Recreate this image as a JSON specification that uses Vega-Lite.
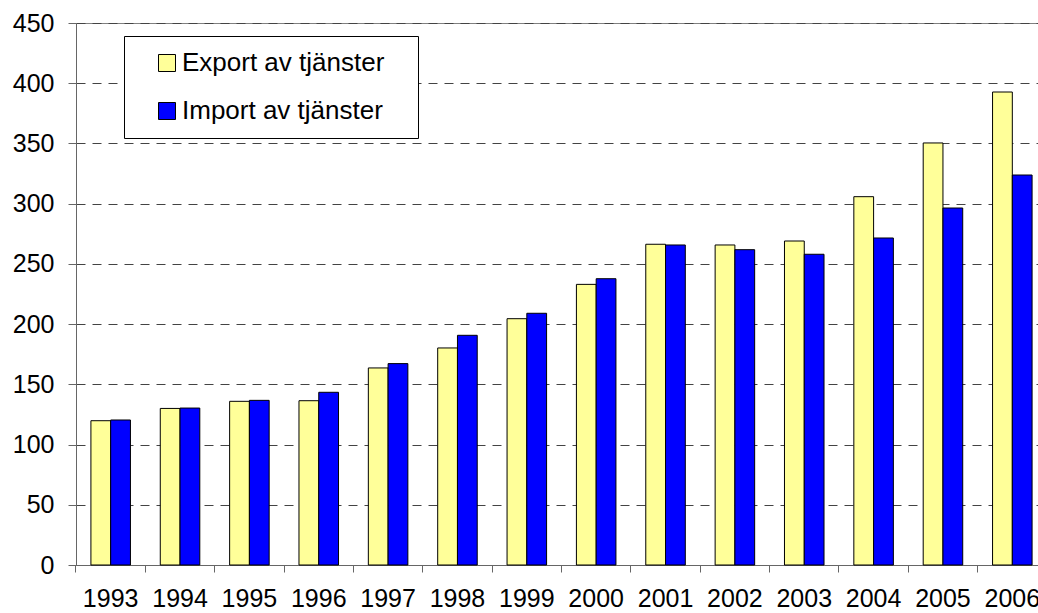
{
  "$schema": "https://vega.github.io/schema/vega-lite/v6.json",
  "width": 971,
  "height": 542,
  "autosize": {"type": "none"},
  "padding": {"left": 76, "top": 23, "right": 0, "bottom": 48},
  "background": "white",
  "config": {
    "font": "Liberation Sans",
    "view": {"stroke": "#808080", "strokeWidth": 1}
  },
  "data": {
    "values": [
      {"year": "1993", "serie": "Export av tjänster", "value": 119.8},
      {"year": "1993", "serie": "Import av tjänster", "value": 120.4},
      {"year": "1994", "serie": "Export av tjänster", "value": 130},
      {"year": "1994", "serie": "Import av tjänster", "value": 130.3},
      {"year": "1995", "serie": "Export av tjänster", "value": 135.9},
      {"year": "1995", "serie": "Import av tjänster", "value": 136.7},
      {"year": "1996", "serie": "Export av tjänster", "value": 136.4},
      {"year": "1996", "serie": "Import av tjänster", "value": 143.4},
      {"year": "1997", "serie": "Export av tjänster", "value": 163.6},
      {"year": "1997", "serie": "Import av tjänster", "value": 167.2},
      {"year": "1998", "serie": "Export av tjänster", "value": 180.2},
      {"year": "1998", "serie": "Import av tjänster", "value": 190.7},
      {"year": "1999", "serie": "Export av tjänster", "value": 204.5},
      {"year": "1999", "serie": "Import av tjänster", "value": 209},
      {"year": "2000", "serie": "Export av tjänster", "value": 233},
      {"year": "2000", "serie": "Import av tjänster", "value": 237.7},
      {"year": "2001", "serie": "Export av tjänster", "value": 266.3},
      {"year": "2001", "serie": "Import av tjänster", "value": 265.7},
      {"year": "2002", "serie": "Export av tjänster", "value": 265.7},
      {"year": "2002", "serie": "Import av tjänster", "value": 261.8},
      {"year": "2003", "serie": "Export av tjänster", "value": 269},
      {"year": "2003", "serie": "Import av tjänster", "value": 258},
      {"year": "2004", "serie": "Export av tjänster", "value": 305.8},
      {"year": "2004", "serie": "Import av tjänster", "value": 271.5},
      {"year": "2005", "serie": "Export av tjänster", "value": 350.4},
      {"year": "2005", "serie": "Import av tjänster", "value": 296.4},
      {"year": "2006", "serie": "Export av tjänster", "value": 392.7},
      {"year": "2006", "serie": "Import av tjänster", "value": 323.8}
    ]
  },
  "mark": {"type": "bar", "stroke": "black", "strokeWidth": 1, "opacity": 1},
  "encoding": {
    "x": {
      "field": "year",
      "type": "nominal",
      "sort": null,
      "scale": {"paddingInner": 0.43, "paddingOuter": 0.215},
      "axis": {
        "title": null,
        "labelAngle": 0,
        "bandPosition": -0.3772,
        "labelFontSize": 25,
        "labelColor": "black",
        "labelPadding": 14,
        "tickSize": 7,
        "tickColor": "#666",
        "domainColor": "#666",
        "labelOverlap": false,
        "grid": false
      }
    },
    "xOffset": {
      "field": "serie",
      "type": "nominal",
      "scale": {"paddingInner": 0, "paddingOuter": 0}
    },
    "y": {
      "field": "value",
      "type": "quantitative",
      "scale": {"domain": [0, 450], "nice": false},
      "axis": {
        "title": null,
        "values": [0, 50, 100, 150, 200, 250, 300, 350, 400, 450],
        "labelFontSize": 25,
        "labelColor": "black",
        "labelPadding": 14,
        "tickSize": 8,
        "tickColor": "#666",
        "domainColor": "#666",
        "grid": true,
        "gridDash": [9, 7],
        "gridColor": "#444",
        "gridOpacity": 1
      }
    },
    "color": {
      "field": "serie",
      "type": "nominal",
      "scale": {
        "domain": ["Export av tjänster", "Import av tjänster"],
        "range": ["#FFFF99", "#0000FF"]
      },
      "legend": {
        "title": null,
        "orient": "none",
        "legendX": 48,
        "legendY": 13,
        "fillColor": "white",
        "strokeColor": "black",
        "padding": 14,
        "symbolType": "square",
        "symbolSize": 289,
        "symbolStrokeColor": "black",
        "symbolStrokeWidth": 1,
        "symbolOpacity": 1,
        "symbolOffset": 16,
        "labelOffset": 2,
        "labelFontSize": 26,
        "labelColor": "black",
        "labelLimit": 400,
        "rowPadding": 22,
        "labelExpr": "datum.label + '\u2800'"
      }
    }
  }
}
